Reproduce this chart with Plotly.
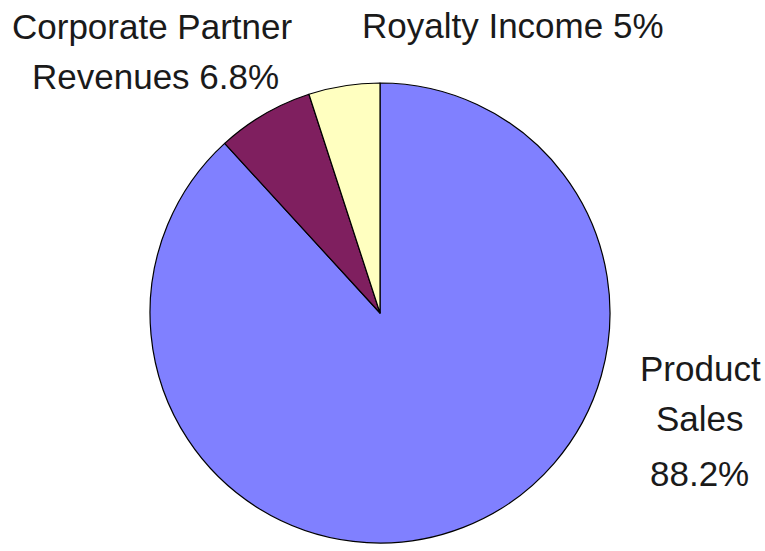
import plotly.graph_objects as go

categories = ["Product Sales", "Corporate Partner Revenues", "Royalty Income"]
values = [88.2, 6.8, 5.0]
colors = ["#8080FF", "#7F1F5F", "#FFFFC0"]

W, H = 765, 551

fig = go.Figure(go.Pie(
    labels=categories,
    values=values,
    sort=False,
    direction="clockwise",
    rotation=0,
    textinfo="none",
    hoverinfo="label+percent",
    marker=dict(colors=colors, line=dict(color="#000000", width=1.2)),
    domain=dict(x=[150 / W, 610 / W], y=[1 - 543 / H, 1 - 83 / H]),
    showlegend=False,
))

font = dict(family="Liberation Sans, Arial, sans-serif", size=35, color="#1a1a1a")

# label lines: (text, x-center px, y-center px)
label_lines = [
    ("Corporate Partner", 152, 26),
    ("Revenues 6.8%", 155, 76),
    ("Royalty Income 5%", 513, 25),
    ("Product", 700, 368),
    ("Sales", 700, 418),
    ("88.2%", 699, 473),
]
for txt, xp, yp in label_lines:
    fig.add_annotation(
        text=txt, x=xp / W, y=1 - yp / H, xref="paper", yref="paper",
        xanchor="center", yanchor="middle", showarrow=False, font=font,
    )

fig.update_layout(
    width=W, height=H,
    margin=dict(l=0, r=0, t=0, b=0),
    paper_bgcolor="white", plot_bgcolor="white",
)

fig.write_html("out.html")
